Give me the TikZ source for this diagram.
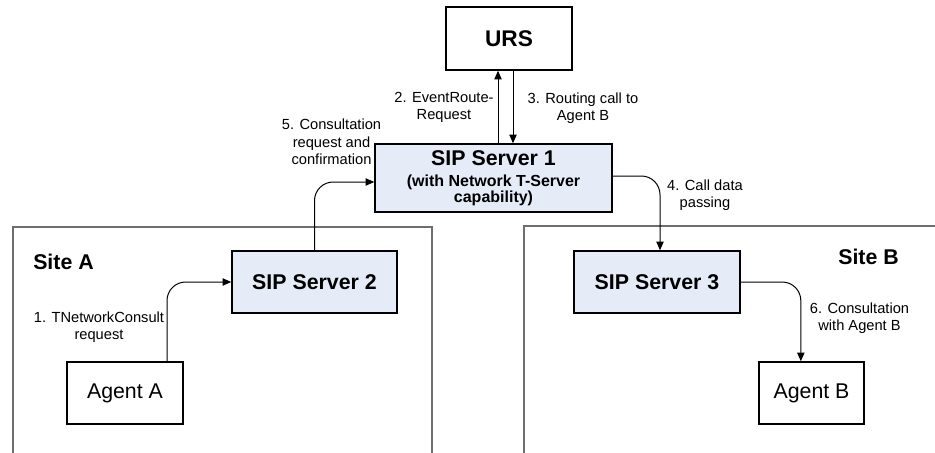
\documentclass[tikz,border=0pt]{standalone}
\usepackage{fontspec}
\setmainfont{Liberation Sans}
\usepackage{tikz}
\usetikzlibrary{arrows.meta}
\definecolor{sipFill}{HTML}{E6ECF7}
\definecolor{siteLine}{HTML}{6E6E6E}
\newcommand{\boxfont}{\fontsize{16}{19}\selectfont}
\newcommand{\capfont}{\fontsize{12}{14.5}\selectfont}
\newcommand{\labfont}{\fontsize{11}{13}\selectfont}
\tikzset{
  box/.style={draw, line width=1.1pt, inner sep=0pt, align=center, font=\boxfont},
  sip/.style={box, fill=sipFill, font=\boxfont\bfseries},
  agent/.style={box, fill=white, minimum width=#1, minimum height=46.5pt},
  agent/.default={87pt},
  lab/.style={align=center, font=\labfont, inner sep=0pt},
  sitelab/.style={font=\boxfont\bfseries, inner sep=0pt},
  flow/.style={line width=0.75pt, -{Triangle[length=6.5pt,width=5.5pt]}, rounded corners=14pt},
  site/.style={draw=siteLine, line width=1pt},
}
\begin{document}
\begin{tikzpicture}[x=0.75pt, y=-0.75pt]
\useasboundingbox (0,0) rectangle (935,453);
% --- sites
\draw[site] (13,453) |- (432,227) -- (432,453);
\draw[site] (524,453) |- (935,226);
\node[sitelab, anchor=west] (siteA) at (33,262) {Site A};
\node[sitelab, anchor=east] (siteB) at (899,257) {Site B};
% --- boxes
\node[box, font=\fontsize{17}{20}\selectfont\bfseries, minimum width=94.5pt, minimum height=47.25pt] (urs) at (509,38.5) {URS};
\node[sip, minimum width=177.75pt, minimum height=51pt] (sip1) at (493.5,178)
  {SIP Server 1\\[-3.25pt]\capfont (with Network T-Server\\[-7pt]\capfont capability)};
\node[sip, minimum width=123.75pt, minimum height=46.5pt] (sip2) at (314.5,282) {SIP Server 2};
\node[sip, minimum width=124.5pt, minimum height=46.5pt] (sip3) at (657,282) {SIP Server 3};
\node[agent] (agentA) at (125,393) {Agent A};
\node[agent=78.75pt] (agentB) at (811.5,393) {Agent B};
% --- connectors
\draw[flow] ([xshift=31.5pt]agentA.north) |- (sip2.west);
\draw[flow] (sip2.north) |- ([yshift=-3pt]sip1.west);
\draw[flow] ([xshift=-8.25pt]urs.south |- sip1.north) -- ([xshift=-8.25pt]urs.south);
\draw[flow] ([xshift=3pt]urs.south) -- ([xshift=3pt]urs.south |- sip1.north);
\draw[flow] ([yshift=1.5pt]sip1.east) -| ([xshift=2.25pt]sip3.north);
\draw[flow] (sip3.east) -| ([xshift=-8pt]agentB.north);
% --- step labels
\node[lab] (lab1) at (99,327.5) {1. TNetworkConsult\\request};
\node[lab] (lab2) at (444,107.5) {2. EventRoute-\\Request};
\node[lab] (lab3) at (583,108.5) {3. Routing call to\\Agent B};
\node[lab] (lab4) at (705,195) {4. Call data\\passing};
\node[lab] (lab5) at (331.5,142) {5. Consultation\\request and\\confirmation};
\node[lab] (lab6) at (859.5,318) {6. Consultation\\with Agent B};
\end{tikzpicture}
\end{document}
